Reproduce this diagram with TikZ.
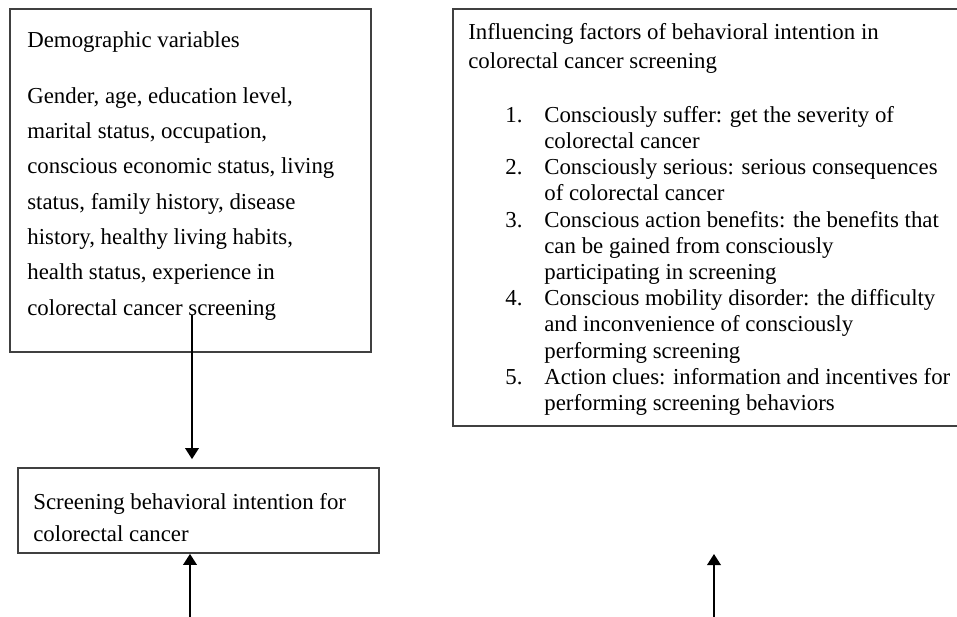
\documentclass[tikz,border=0pt]{standalone}
\usepackage{fontspec}
\setmainfont{Liberation Serif}
\usetikzlibrary{arrows.meta,fit}
\newcommand\numlabel[1]{\makebox[0.78cm][l]{#1}}
\newcommand\numskip{\hspace*{0.78cm}}
\begin{document}
\begin{tikzpicture}[x=0.02cm,y=-0.02cm,
	box/.style={draw=black!75,line width=1pt,inner sep=0pt},
	txt/.style={inner sep=0pt,anchor=north west,align=left,font=\fontsize{13}{#1}\selectfont},
	arr/.style={-{Triangle[length=0.22cm,width=0.27cm]},line width=1.1pt}]
	\useasboundingbox (0,0) rectangle (957,616);
	\clip (0,0) rectangle (957,616);
	\node[box,fit={(10,9) (371,352)}] (demo) {};
	\node[box,fit={(453,9) (965,426)}] (influence) {};
	\node[box,fit={(18,468) (379,553)}] (intent) {};
	\node[txt=20.1pt] (demotext) at (27,31) {Demographic variables\\[0.414cm]
		Gender, age, education level,\\
		marital status, occupation,\\
		conscious economic status, living\\
		status, family history, disease\\
		history, healthy living habits,\\
		health status, experience in\\
		colorectal cancer screening};
	\node[txt=16.8pt] (inftitle) at (468,23) {Influencing factors of behavioral intention in\\
		colorectal cancer screening};
	\node[txt=14.9pt] (inflist) at (505,106) {\numlabel{1.}Consciously suffer: get the severity of\\
		\numskip colorectal cancer\\
		\numlabel{2.}Consciously serious: serious consequences\\
		\numskip of colorectal cancer\\
		\numlabel{3.}Conscious action benefits: the benefits that\\
		\numskip can be gained from consciously\\
		\numskip participating in screening\\
		\numlabel{4.}Conscious mobility disorder: the difficulty\\
		\numskip and inconvenience of consciously\\
		\numskip performing screening\\
		\numlabel{5.}Action clues: information and incentives for\\
		\numskip performing screening behaviors};
	\node[txt=18.2pt] (intenttext) at (33,493) {Screening behavioral intention for\\
		colorectal cancer};
	\coordinate (demoout) at (192,315);
	\coordinate (bottomleft) at (190,620);
	\coordinate (bottomright) at (714,620);
	\coordinate (freetip) at (714,554);
	\draw[arr,shorten >=0.16cm] (demoout)--(demoout|-intent.north);
	\draw[arr] (bottomleft)--(bottomleft|-intent.south);
	\draw[arr] (bottomright)--(freetip);
\end{tikzpicture}
\end{document}
